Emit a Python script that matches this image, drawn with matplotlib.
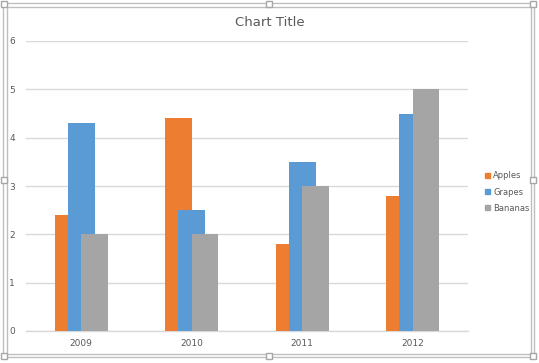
import matplotlib
matplotlib.use("Agg")
import matplotlib.pyplot as plt
import matplotlib.patches as patches
import numpy as np

years = ["2009", "2010", "2011", "2012"]
series_names = ["Apples", "Grapes", "Bananas"]
apples = [2.4, 4.4, 1.8, 2.8]
grapes = [4.3, 2.5, 3.5, 4.5]
bananas = [2.0, 2.0, 3.0, 5.0]
colors = ["#ED7D31", "#5B9BD5", "#A5A5A5"]

W, H = 539, 363
fig = plt.figure(figsize=(W / 100, H / 100), dpi=100)
fig.patch.set_facecolor("white")

# plot area in pixels: x 26..468, y 41..331
ax = fig.add_axes([26 / W, 1 - 331 / H, (468 - 26) / W, (331 - 41) / H])

x = np.arange(len(years))
width = 0.24
offsets = [-0.122, 0.0, 0.122]
for vals, off, col, name in zip([apples, grapes, bananas], offsets, colors, series_names):
    ax.bar(x + off, vals, width=width, color=col, label=name, zorder=3)

ax.set_xlim(-0.5, 3.5)
ax.set_ylim(0, 6)
ax.set_yticks(range(0, 7))
ax.set_xticks(x)
ax.set_xticklabels(years)
ax.tick_params(axis="both", length=0, labelsize=6.5, colors="#595959")
ax.tick_params(axis="y", pad=8)
ax.tick_params(axis="x", pad=6)
ax.yaxis.grid(True, color="#D9D9D9", linewidth=1, zorder=0)
for s in ["top", "right", "left"]:
    ax.spines[s].set_visible(False)
ax.spines["bottom"].set_color("#D9D9D9")
ax.spines["bottom"].set_linewidth(1)

fig.text(270 / W, 1 - 22 / H, "Chart Title", ha="center", va="center",
         fontsize=9.5, color="#595959")

handles = [patches.Patch(color=c) for c in colors]
fig.legend(handles, series_names, loc="center left",
           bbox_to_anchor=(477 / W, 1 - 192 / H), frameon=False,
           fontsize=6, labelcolor="#595959", handlelength=0.65,
           handleheight=0.65, handletextpad=0.4, labelspacing=0.85)

# selection frame with handles, like the Excel chart border
for (x0, y0, x1, y1) in [(3, 3, 533.5, 357), (6.5, 6.5, 531, 354)]:
    fig.patches.append(patches.Rectangle((x0 / W, 1 - y1 / H), (x1 - x0) / W, (y1 - y0) / H,
                                         transform=fig.transFigure, fill=False,
                                         edgecolor="#BFBFBF", linewidth=1))
hs = 6
for hx in [4, 269, 533]:
    for hy in [4, 180, 356]:
        if hx == 269 and hy == 180:
            continue
        fig.patches.append(patches.Rectangle(((hx - hs / 2) / W, 1 - (hy + hs / 2) / H), hs / W, hs / H,
                                             transform=fig.transFigure, facecolor="white",
                                             edgecolor="#A6A6A6", linewidth=1, zorder=5))

fig.savefig("out.png", dpi=100)
